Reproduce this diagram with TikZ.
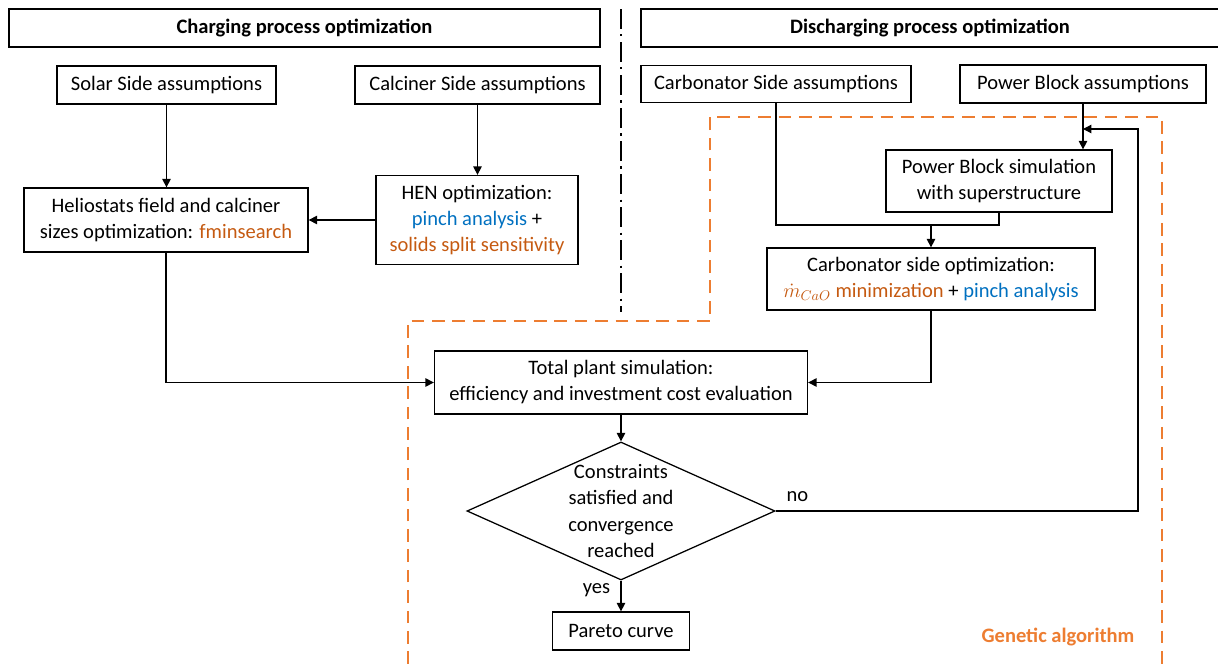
\documentclass[tikz,border=0pt]{standalone}
\usepackage{fontspec}
\setmainfont{Carlito}
\usepackage{tikz}
\usetikzlibrary{shapes.geometric,arrows.meta}
\definecolor{txtorange}{HTML}{C55A11}
\definecolor{txtblue}{HTML}{0070C0}
\definecolor{gaorange}{HTML}{ED7D31}

\begin{document}
\begin{tikzpicture}[x=0.025cm, y=-0.025cm,
    font=\fontsize{14.6}{18.5}\selectfont,
    box/.style = {draw, line width=0.9pt, align=center, inner sep=0pt},
    header/.style = {box, minimum height=0.95cm, font=\fontsize{14.6}{18.5}\selectfont\bfseries},
    flow/.style = {line width=0.9pt, -{Triangle[length=6pt,width=6pt]}},
    link/.style = {line width=0.9pt},
    divider/.style = {line width=1.6pt, dash pattern=on 14pt off 4pt on 1.5pt off 4pt},
    gabox/.style = {gaorange, line width=1.3pt, dash pattern=on 9pt off 5.5pt}]
    \useasboundingbox (0,0) rectangle (1218,664);

    \draw[gabox] (408,664) -- (408,321) -- (710,321) -- (710,117) -- (1162,117) -- (1162,664);
    \draw[divider] (621,9) -- (621,312);

    \node[header, minimum width=14.775cm] (charging) at (304.5,28) {Charging process optimization};
    \node[header, minimum width=14.45cm] (discharging) at (930,28) {Discharging process optimization};

    \node[box, minimum width=5.475cm, minimum height=0.95cm] (solar) at (166.5,85) {Solar Side assumptions};
    \node[box, minimum width=6.125cm, minimum height=0.95cm] (calciner) at (477.5,85) {Calciner Side assumptions};
    \node[box, minimum width=6.75cm, minimum height=0.925cm] (carbA) at (776,84) {Carbonator Side assumptions};
    \node[box, minimum width=6.15cm, minimum height=0.95cm] (pbA) at (1083,84) {Power Block assumptions};

    \node[box, minimum width=7.1cm, minimum height=1.6cm] (helio) at (166,220)
        {Heliostats field and calciner\\sizes optimization: \textcolor{txtorange}{fminsearch}};
    \node[box, minimum width=5.05cm, minimum height=2.225cm] (hen) at (477,220)
        {HEN optimization:\\\textcolor{txtblue}{pinch analysis} +\\\textcolor{txtorange}{solids split sensitivity}};
    \node[box, minimum width=5.65cm, minimum height=1.55cm] (pbsim) at (999,181)
        {Power Block simulation\\with superstructure};
    \node[box, minimum width=8.2cm, minimum height=1.55cm] (carbopt) at (931,279)
        {Carbonator side optimization:\\\textcolor{txtorange}{$\dot{m}_{CaO}$\ minimization} + \textcolor{txtblue}{pinch analysis}};
    \node[box, minimum width=9.325cm, minimum height=1.575cm] (total) at (621,382.5)
        {Total plant simulation:\\efficiency and investment cost evaluation};
    \node[draw, diamond, line width=0.9pt, inner sep=0pt, minimum width=7.7cm, minimum height=3.45cm] (check) at (621,511) {};
    \node[align=center] (checktext) at (check) {Constraints\\satisfied and\\convergence\\reached};
    \node[box, minimum width=3.425cm, minimum height=0.95cm] (pareto) at (621,631) {Pareto curve};
    \node[text=gaorange, font=\fontsize{14.6}{18.5}\selectfont\bfseries] (galabel) at (1058,637) {Genetic algorithm};

    \coordinate (merge) at (931,225);
    \coordinate (back) at (1083,129);
    \coordinate (backturn) at (1138,129);

    \draw[flow] (solar.south) -- (solar.south |- helio.north);
    \draw[flow] (calciner.south) -- (calciner.south |- hen.north);
    \draw[flow] (hen.west) -- (hen.west -| helio.east);
    \draw[flow] (helio.south) |- (total.west);
    \draw[link] (carbA.south) |- (merge) -| (pbsim.south);
    \draw[flow] (merge) -- (carbopt.north);
    \draw[flow] (pbA.south) -- (pbA.south |- pbsim.north);
    \draw[flow] (carbopt.south) |- (total.east);
    \draw[flow] (total.south) -- (check.north);
    \draw[flow] (check.south) -- node[pos=0.3, left=4pt] {yes} (pareto.north);
    \draw[flow] (check.east) -- node[pos=0.06, above=3pt] {no} (check.east -| backturn) -- (backturn) -- (back);
\end{tikzpicture}
\end{document}
